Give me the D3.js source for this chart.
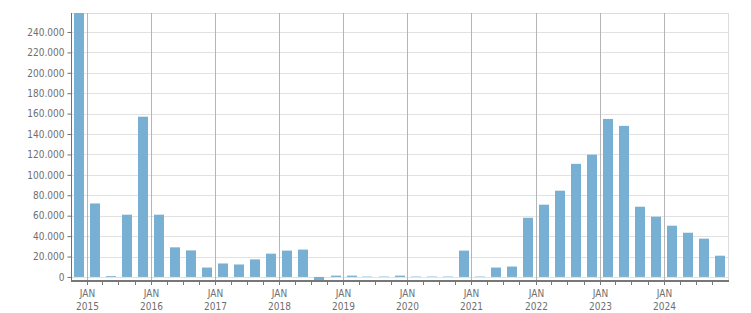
<!DOCTYPE html>
<html>
<head>
<meta charset="utf-8">
<script src="https://cdn.jsdelivr.net/npm/d3@7"></script>
<style>
  body { margin: 0; background: #fff; }
  svg { display: block; }
  text { font-family: "DejaVu Sans Condensed", "DejaVu Sans", sans-serif; font-size: 10px; fill: #6f6f6f; }
</style>
</head>
<body>
<svg id="chart"></svg>
<script>
// Quarter starts (one bar per quarter) and the values
const quarters = [
  "2014-10", "2015-01", "2015-04", "2015-07", "2015-10",
  "2016-01", "2016-04", "2016-07", "2016-10",
  "2017-01", "2017-04", "2017-07", "2017-10",
  "2018-01", "2018-04", "2018-07", "2018-10",
  "2019-01", "2019-04", "2019-07", "2019-10",
  "2020-01", "2020-04", "2020-07", "2020-10",
  "2021-01", "2021-04", "2021-07", "2021-10",
  "2022-01", "2022-04", "2022-07", "2022-10",
  "2023-01", "2023-04", "2023-07", "2023-10",
  "2024-01", "2024-04", "2024-07", "2024-10"
];
const values = [
  258600, 72000, 800, 61000, 157000,
  61000, 29000, 26000, 9200,
  13200, 12200, 17200, 22800,
  25800, 26800, -3000, 1300,
  1300, 400, 400, 1300,
  400, 400, 400, 25800,
  400, 9200, 10200, 58000,
  70800, 84500, 110800, 119800,
  154800, 148000, 68800, 59000,
  50200, 43300, 37500, 20800
];
const yTicks = [0, 20000, 40000, 60000, 80000, 100000, 120000, 140000, 160000, 180000, 200000, 220000, 240000];

const chartWidth = 751, chartHeight = 313;
const plotLeft = 71, plotRight = 728.5, plotTop = 13, plotBottom = 280;

const svg = d3.select("#chart").attr("width", chartWidth).attr("height", chartHeight);

const parse = d3.timeParse("%Y-%m");
const x = d3.scaleTime()
  .domain([parse("2014-10"), parse("2025-01")])
  .range([plotLeft, plotRight]);
const y = d3.scaleLinear()
  .domain([-3000, 258600])
  .range([plotBottom, plotTop]);

const fmt = d3.formatLocale({ decimal: ",", thousands: ".", grouping: [3], currency: ["", ""] }).format(",d");
const px = v => Math.floor(v) + 0.5;

// horizontal grid
svg.append("g")
  .selectAll("line")
  .data(yTicks)
  .join("line")
  .attr("x1", plotLeft).attr("x2", plotRight)
  .attr("y1", d => Math.round(y(d)) + 0.5).attr("y2", d => Math.round(y(d)) + 0.5)
  .attr("stroke", "#e2e2e2");

// plot border top/right
svg.append("line").attr("x1", plotLeft).attr("x2", 729).attr("y1", plotTop + 0.5).attr("y2", plotTop + 0.5).attr("stroke", "#dddddd");
svg.append("line").attr("x1", 728.5).attr("x2", 728.5).attr("y1", plotTop).attr("y2", 281).attr("stroke", "#dddddd");

// vertical grid at each January
const years = d3.timeYear.range(parse("2015-01"), parse("2025-01"));
svg.append("g")
  .selectAll("line")
  .data(years)
  .join("line")
  .attr("x1", d => px(x(d))).attr("x2", d => px(x(d)))
  .attr("y1", plotTop).attr("y2", 281)
  .attr("stroke", "#b5b5b5");

// bars
svg.append("g")
  .selectAll("rect")
  .data(quarters.map((q, i) => ({ start: parse(q), value: values[i] })))
  .join("rect")
  .attr("x", d => {
    const mid = (x(d.start) + x(d3.timeMonth.offset(d.start, 3))) / 2;
    return Math.round(mid - 5);
  })
  .attr("width", 10)
  .attr("y", d => y(Math.max(0, d.value)))
  .attr("height", d => Math.abs(y(d.value) - y(0)))
  .attr("fill", "#78b0d3");

// left axis
const yAxis = svg.append("g").attr("transform", `translate(${plotLeft + 0.5},0)`)
  .call(d3.axisLeft(y).tickValues(yTicks).tickFormat(fmt).tickSize(4).tickPadding(3));
yAxis.select(".domain").attr("d", `M0,${plotTop}V281`).attr("stroke", "#707070");
yAxis.selectAll(".tick line").attr("stroke", "#707070");
yAxis.selectAll("text").attr("font-size", 10).attr("fill", "#6f6f6f").attr("font-family", null);

// bottom axis line
svg.append("rect").attr("x", plotLeft).attr("y", 280).attr("width", 729 - plotLeft).attr("height", 2).attr("fill", "#777777");

// quarter ticks
const qTicks = d3.timeMonth.every(3).range(parse("2015-01"), parse("2025-01"));
svg.append("g")
  .selectAll("line")
  .data(qTicks)
  .join("line")
  .attr("x1", d => px(x(d))).attr("x2", d => px(x(d)))
  .attr("y1", 282).attr("y2", 285)
  .attr("stroke", "#777777");

// year labels
const labels = svg.append("g").selectAll("text").data(years).join("text")
  .attr("text-anchor", "middle")
  .attr("x", d => px(x(d)));
labels.append("tspan").attr("x", d => px(x(d))).attr("y", 297).text("JAN");
labels.append("tspan").attr("x", d => px(x(d))).attr("y", 310).text(d => d3.timeFormat("%Y")(d));
</script>
</body>
</html>
